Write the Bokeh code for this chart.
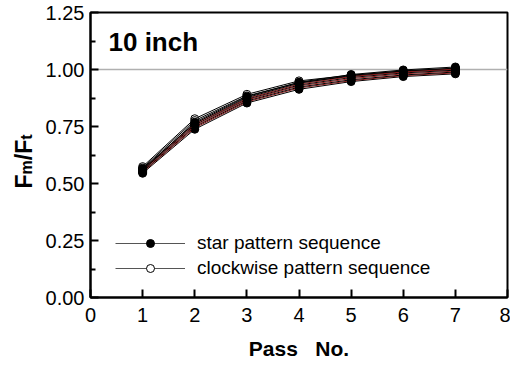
import math
from bokeh.plotting import figure
from bokeh.layouts import row
from bokeh.models import (Range1d, FixedTicker, NumeralTickFormatter, Span, Label,
                          Legend, LegendItem, ColumnDataSource)
from bokeh.embed import file_html
from bokeh.resources import INLINE

# ---------------- data ----------------
passes = [1, 2, 3, 4, 5, 6, 7]

star_series = [
    [0.545, 0.738, 0.853, 0.913, 0.947, 0.969, 0.981],
    [0.549, 0.744, 0.858, 0.919, 0.951, 0.973, 0.985],
    [0.552, 0.749, 0.862, 0.923, 0.955, 0.976, 0.989],
    [0.556, 0.752, 0.866, 0.928, 0.960, 0.981, 0.993],
    [0.559, 0.757, 0.870, 0.932, 0.965, 0.985, 0.997],
    [0.562, 0.761, 0.873, 0.936, 0.969, 0.989, 1.002],
    [0.565, 0.764, 0.877, 0.940, 0.974, 0.994, 1.006],
    [0.558, 0.769, 0.881, 0.944, 0.978, 0.998, 1.011],
]
star_line_colors = ["black", "#8b1a1a", "black", "#8b1a1a", "black", "#8b1a1a", "black", "black"]

clockwise_series = [
    [0.574, 0.784, 0.891, 0.950, 0.975, 0.993, 1.004],
    [0.568, 0.776, 0.884, 0.943, 0.970, 0.990, 1.000],
]

x_ticks = [0, 1, 2, 3, 4, 5, 6, 7, 8]
y_ticks = [0.0, 0.25, 0.5, 0.75, 1.0, 1.25]
y_minor = [0.125, 0.375, 0.625, 0.875, 1.125]
legend_labels = ["star pattern sequence", "clockwise pattern sequence"]
panel_title = "10 inch"
x_label = "Pass\u00a0\u00a0\u00a0No."
y_label_parts = ["F", "m", "/F", "t"]

# ---------------- geometry (page px, top-left origin) ----------------
W, H = 510, 369
LW = 40                      # width of the side strip holding the y label
FL, FR, FT, FB = 90, 507, 12, 297
XMIN, XMAX, YMIN, YMAX = 0, 8, 0, 1.25

def px2x(px):
    return XMIN + (px - FL) * (XMAX - XMIN) / (FR - FL)

def py2y(py):
    return YMIN + (FB - py) * (YMAX - YMIN) / (FB - FT)

FONT = "Liberation Sans"

# ---------- side strip with the rotated y-axis label ----------
# (its frame gets aligned with the main frame: rows FT..FB)
side = figure(width=LW, height=H, output_backend="svg", toolbar_location=None,
              x_range=Range1d(0, LW), y_range=Range1d(FB, FT),
              x_axis_location=None, y_axis_location=None,
              min_border=0, min_border_left=0, min_border_right=0,
              min_border_top=0, min_border_bottom=0)
side.grid.visible = False
side.outline_line_color = None
side.background_fill_color = "white"
side.border_fill_color = "white"

big, small = 23, 16
advances = {"F": 0.611, "m": 0.889, "/F": 0.889, "t": 0.333}
ypos = 188.0
for txt in y_label_parts:
    fs = small if txt in ("m", "t") else big
    bx = 26 if fs == small else 23
    side.add_layout(Label(x=bx, y=ypos, text=txt, angle=math.pi / 2,
                          text_font=FONT, text_font_style="bold",
                          text_font_size=f"{fs}px", text_color="black",
                          text_align="left", text_baseline="alphabetic"))
    ypos -= advances[txt] * fs

# ---------- main plot ----------
MW = W - LW
p = figure(width=MW, height=H, output_backend="svg", toolbar_location=None,
           x_range=Range1d(XMIN, XMAX), y_range=Range1d(YMIN, YMAX),
           min_border_left=FL - LW, min_border_right=W - FR,
           min_border_top=FT, min_border_bottom=H - FB)
p.xgrid.visible = False
p.ygrid.visible = False
p.background_fill_color = "white"
p.border_fill_color = "white"
p.outline_line_color = "black"
p.outline_line_width = 2

for ax in (p.xaxis[0], p.yaxis[0]):
    ax.axis_line_width = 2
    ax.axis_line_color = "black"
    ax.major_tick_in = 8
    ax.major_tick_out = 0
    ax.major_tick_line_width = 2
    ax.major_tick_line_color = "black"
    ax.minor_tick_in = 5
    ax.minor_tick_out = 0
    ax.minor_tick_line_width = 2
    ax.minor_tick_line_color = "black"
    ax.major_label_text_font = FONT
    ax.major_label_text_font_size = "20px"
    ax.major_label_text_color = "black"

p.xaxis.ticker = FixedTicker(ticks=x_ticks)
p.yaxis.ticker = FixedTicker(ticks=y_ticks, minor_ticks=y_minor)
p.yaxis.formatter = NumeralTickFormatter(format="0.00")
p.xaxis.major_label_standoff = 10
p.yaxis.major_label_standoff = 6

p.xaxis.axis_label = x_label
p.xaxis.axis_label_text_font = FONT
p.xaxis.axis_label_text_font_style = "bold"
p.xaxis.axis_label_text_font_size = "21px"
p.xaxis.axis_label_text_color = "black"
p.xaxis.axis_label_standoff = 12

# reference line at 1.0
p.add_layout(Span(location=1.0, dimension="width", line_color="#b0b0b0",
                  line_width=1.5, level="underlay"))

# clockwise (open markers) first
for ys in clockwise_series:
    p.line(passes, ys, line_color="black", line_width=1)
    p.scatter(passes, ys, marker="circle", size=8, fill_color="white",
              line_color="black", line_width=1)

for ys, c in zip(star_series, star_line_colors):
    p.line(passes, ys, line_color=c, line_width=1)
    p.scatter(passes, ys, marker="circle", size=8, fill_color="black",
              line_color="black", line_width=1)

# legend with dummy (NaN) renderers
nan = float("nan")
dummy = ColumnDataSource(data=dict(x=[nan], y=[nan]))
l1 = p.line("x", "y", source=dummy, line_color="#555555", line_width=1)
s1 = p.scatter("x", "y", source=dummy, marker="circle", size=7,
               fill_color="black", line_color="black")
l2 = p.line("x", "y", source=dummy, line_color="#555555", line_width=1)
s2 = p.scatter("x", "y", source=dummy, marker="circle", size=7,
               fill_color="white", line_color="black")
legend = Legend(items=[LegendItem(label=legend_labels[0], renderers=[l1, s1]),
                       LegendItem(label=legend_labels[1], renderers=[l2, s2])],
                location=(25, 18), orientation="vertical",
                glyph_width=70, glyph_height=20, label_height=20,
                label_standoff=12, spacing=3, padding=0, margin=0,
                label_text_font=FONT, label_text_font_size="19px",
                label_text_color="black",
                background_fill_alpha=0, border_line_alpha=0)
p.add_layout(legend, "center")

# panel title
p.add_layout(Label(x=px2x(108), y=py2y(41), text=panel_title,
                   text_font=FONT, text_font_style="bold",
                   text_font_size="26px", text_color="black",
                   text_align="left", text_baseline="alphabetic"))

layout = row(side, p, spacing=0)
open("out.html", "w").write(file_html(layout, INLINE))
